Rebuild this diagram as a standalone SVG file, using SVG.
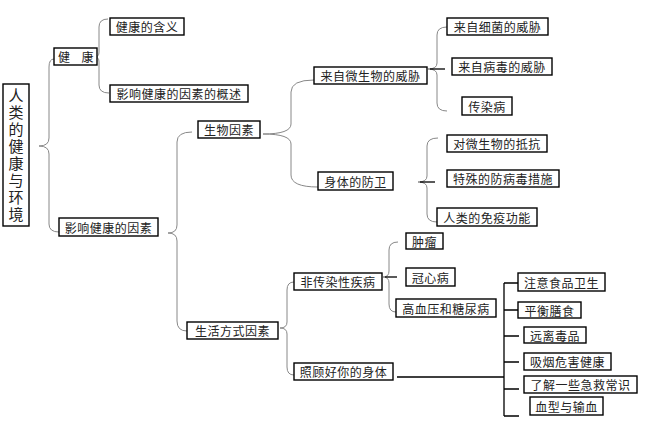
<svg xmlns="http://www.w3.org/2000/svg" width="650" height="429" viewBox="0 0 650 429">
<style>
.box{fill:#fff;stroke:#000;stroke-width:1.4}
.t{font-family:"Noto Sans CJK SC","Noto Sans CJK TC",sans-serif;font-size:12px;fill:#222;text-anchor:middle;dominant-baseline:central;letter-spacing:0.5px}
.tv{font-family:"Noto Sans CJK SC","Noto Sans CJK TC",sans-serif;font-size:15px;fill:#222;text-anchor:middle;writing-mode:vertical-rl;letter-spacing:2px}
.br{fill:none;stroke:#888;stroke-width:1}
.ln{fill:none;stroke:#000;stroke-width:1.3}
</style>
<rect width="650" height="429" fill="#fff"/>
<g id="connectors">
<path class="br" d="M54,59 Q49,59 49,67 L49,138 Q49,146 39,146 Q49,146 49,154 L49,224 Q49,232 59,232"/>
<path class="br" d="M108,19 Q99,19 99,27 L99,52 Q99,57 95,57 Q99,57 99,62 L99,85 Q99,93 109,93"/>
<path class="br" d="M192,132 Q177,132 177,142 L177,225 Q177,233 168,233 Q177,233 177,241 L177,321 Q177,331 187,331"/>
<path class="br" d="M314,80 Q291,80 291,92 L291,124 Q291,134 263,134 Q291,134 291,144 L291,175 Q291,187 318,187"/>
<path class="br" d="M447,27 Q437,27 437,35 L437,63 Q437,69 428,69 Q437,69 437,75 L437,103 Q437,111 447,111"/>
<path class="ln" d="M430,69 L445,69"/>
<path class="br" d="M438,138 Q427,138 427,146 L427,176 Q427,182 418,182 Q427,182 427,188 L427,214 Q427,222 437,222"/>
<path class="ln" d="M420,182 L435,182"/>
<path class="br" d="M294,282 Q287,282 287,290 L287,322 Q287,328 280,328 Q287,328 287,334 L287,367 Q287,375 294,375"/>
<path class="br" d="M398,242 Q389,242 389,250 L389,271 Q389,277 383,277 Q389,277 389,283 L389,304 Q389,312 396,312"/>
<path class="ln" d="M385,277 L397,277"/>
<path class="ln" d="M397,377 L504,377 M504,283 L504,416 M504,283 L518,283 M504,310 L518,310 M504,336 L519,336 M504,362 L519,362 M504,389 L519,389 M504,416 L519,416"/>
</g>
<g id="n-title"><rect class="box" x="3" y="84" width="26" height="142"/>
<text class="tv" x="16" y="156">人类的健康与环境</text></g>
<g id="n-jiankang"><rect class="box" x="54" y="48" width="43" height="17"/><text class="t" x="76" y="56.5" word-spacing="8">健 康</text></g>
<g id="n-hanyi"><rect class="box" x="110" y="18" width="74" height="17"/><text class="t" x="147" y="26.5">健康的含义</text></g>
<g id="n-gaishu"><rect class="box" x="110" y="85" width="138" height="17"/><text class="t" x="179" y="93.5">影响健康的因素的概述</text></g>
<g id="n-yinsu"><rect class="box" x="59" y="218" width="99" height="18"/><text class="t" x="108.5" y="227">影响健康的因素</text></g>
<g id="n-shengwu"><rect class="box" x="198" y="121" width="62" height="17"/><text class="t" x="229" y="129.5">生物因素</text></g>
<g id="n-weixie"><rect class="box" x="314" y="67" width="113" height="17"/><text class="t" x="370.5" y="75.5">来自微生物的威胁</text></g>
<g id="n-xijun"><rect class="box" x="447" y="18" width="101" height="17"/><text class="t" x="497.5" y="26.5">来自细菌的威胁</text></g>
<g id="n-bingdu"><rect class="box" x="452" y="58" width="100" height="17"/><text class="t" x="502" y="66.5">来自病毒的威胁</text></g>
<g id="n-chuanran"><rect class="box" x="462" y="97" width="50" height="18"/><text class="t" x="487" y="106">传染病</text></g>
<g id="n-fangwei"><rect class="box" x="318" y="172" width="75" height="18"/><text class="t" x="355.5" y="181">身体的防卫</text></g>
<g id="n-dikang"><rect class="box" x="447" y="135" width="100" height="17"/><text class="t" x="497" y="143.5">对微生物的抵抗</text></g>
<g id="n-cuoshi"><rect class="box" x="447" y="170" width="112" height="17"/><text class="t" x="503" y="178.5">特殊的防病毒措施</text></g>
<g id="n-mianyi"><rect class="box" x="437" y="208" width="100" height="18"/><text class="t" x="487" y="217">人类的免疫功能</text></g>
<g id="n-shenghuo"><rect class="box" x="187" y="322" width="91" height="17"/><text class="t" x="232.5" y="330.5">生活方式因素</text></g>
<g id="n-feichuanran"><rect class="box" x="294" y="273" width="88" height="17"/><text class="t" x="338" y="281.5">非传染性疾病</text></g>
<g id="n-zhaogu"><rect class="box" x="294" y="363" width="99" height="17"/><text class="t" x="343.5" y="371.5">照顾好你的身体</text></g>
<g id="n-zhongliu"><rect class="box" x="406" y="233" width="37" height="16"/><text class="t" x="424.5" y="241">肿瘤</text></g>
<g id="n-guanxin"><rect class="box" x="406" y="268" width="49" height="18"/><text class="t" x="430.5" y="277">冠心病</text></g>
<g id="n-gaoxueya"><rect class="box" x="396" y="299" width="100" height="18"/><text class="t" x="446" y="308">高血压和糖尿病</text></g>
<g id="n-shipin"><rect class="box" x="518" y="273" width="87" height="18"/><text class="t" x="561.5" y="282">注意食品卫生</text></g>
<g id="n-shanshi"><rect class="box" x="518" y="302" width="63" height="16"/><text class="t" x="549.5" y="310">平衡膳食</text></g>
<g id="n-dupin"><rect class="box" x="524" y="327" width="62" height="16"/><text class="t" x="555" y="335">远离毒品</text></g>
<g id="n-xiyan"><rect class="box" x="524" y="353" width="87" height="17"/><text class="t" x="567.5" y="361.5">吸烟危害健康</text></g>
<g id="n-jijiu"><rect class="box" x="524" y="376" width="113" height="17"/><text class="t" x="580.5" y="384.5">了解一些急救常识</text></g>
<g id="n-xuexing"><rect class="box" x="530" y="397" width="73" height="18"/><text class="t" x="566.5" y="406">血型与输血</text></g>
</svg>
